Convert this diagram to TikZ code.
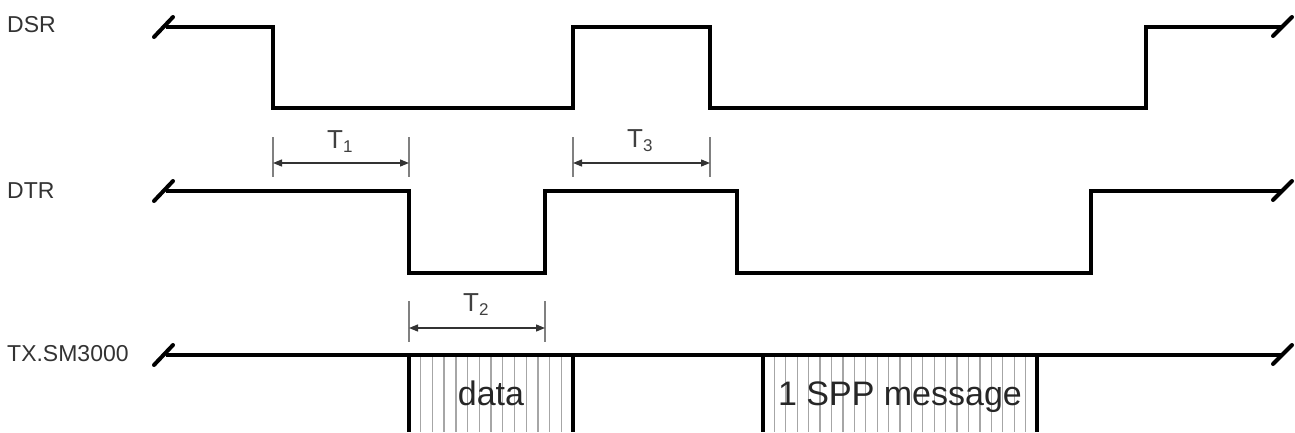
\documentclass[tikz,border=0pt]{standalone}
\usepackage{fontspec}
\setmainfont{Liberation Sans}
\usetikzlibrary{arrows.meta}
\begin{document}
\begin{tikzpicture}[x=1pt,y=-1pt,
  sig/.style={line width=4pt, line join=miter, line cap=butt},
  brk/.style={line width=4pt, line cap=round},
  dimtick/.style={line width=1.5pt, draw=black!50},
  dimarrow/.style={line width=1.3pt, draw=black!80, {Triangle[length=9pt,width=7pt]}-{Triangle[length=9pt,width=7pt]}},
  hatch/.style={line width=1.3pt, draw=black!35},
  lbl/.style={font=\fontsize{23}{27}\selectfont, text=black!80, anchor=west, inner sep=0pt},
  tlbl/.style={font=\fontsize{26}{29}\selectfont, text=black!75, inner sep=0pt, anchor=base west},
  big/.style={font=\fontsize{34}{39}\selectfont, text=black!85, inner sep=0pt, anchor=base}]
\useasboundingbox (0,0) rectangle (1295,432);

% signal labels
\node[lbl] (dsr) at (7,24.5) {DSR};
\node[lbl] (dtr) at (7,190.5) {DTR};
\node[lbl] (tx) at (7,354) {TX.SM3000};

% hatching of the data blocks
\foreach \i in {1,...,13} \draw[hatch] ({409+\i*164/14},355) -- ++(0,77);
\foreach \i in {1,...,23} \draw[hatch] ({763+\i*274/24},355) -- ++(0,77);

% DSR
\draw[sig] (166,27) -- (273,27) -- (273,108) -- (573,108) -- (573,27) -- (710,27) -- (710,108) -- (1146,108) -- (1146,27) -- (1283,27);
\draw[brk] (154,37) -- (173,17);
\draw[brk] (1273,36) -- (1292,17);

% DTR
\draw[sig] (166,191) -- (409,191) -- (409,273) -- (545,273) -- (545,191) -- (737,191) -- (737,273) -- (1091,273) -- (1091,191) -- (1283,191);
\draw[brk] (154,201) -- (173,181);
\draw[brk] (1273,200) -- (1292,181);

% TX.SM3000
\draw[sig] (166,355) -- (1283,355);
\draw[brk] (154,365) -- (173,345);
\draw[brk] (1273,364) -- (1292,345);
\draw[sig] (409,355) -- (409,432);
\draw[sig] (573,355) -- (573,432);
\draw[sig] (763,355) -- (763,432);
\draw[sig] (1037,355) -- (1037,432);

% dimension T1
\draw[dimtick] (273,137) -- (273,177);
\draw[dimtick] (409,137) -- (409,177);
\coordinate (t1a) at (273,163);
\coordinate (t1b) at (409,163);
\draw[dimarrow] (t1a) -- (t1b);
\node[tlbl] (t1) at (327,148) {T\raisebox{-4pt}{\fontsize{17}{17}\selectfont 1}};

% dimension T3
\draw[dimtick] (573,137) -- (573,177);
\draw[dimtick] (710,137) -- (710,177);
\coordinate (t3a) at (573,163);
\coordinate (t3b) at (710,163);
\draw[dimarrow] (t3a) -- (t3b);
\node[tlbl] (t3) at (627,147) {T\raisebox{-4pt}{\fontsize{17}{17}\selectfont 3}};

% dimension T2
\draw[dimtick] (409,301) -- (409,342);
\draw[dimtick] (545,301) -- (545,342);
\coordinate (t2a) at (409,328);
\coordinate (t2b) at (545,328);
\draw[dimarrow] (t2a) -- (t2b);
\node[tlbl] (t2) at (463,311.5) {T\raisebox{-4pt}{\fontsize{17}{17}\selectfont 2}};

% block texts
\node[big] (data) at (491,405) {data};
\node[big] (msg) at (900,405) {1 SPP message};
\end{tikzpicture}
\end{document}
